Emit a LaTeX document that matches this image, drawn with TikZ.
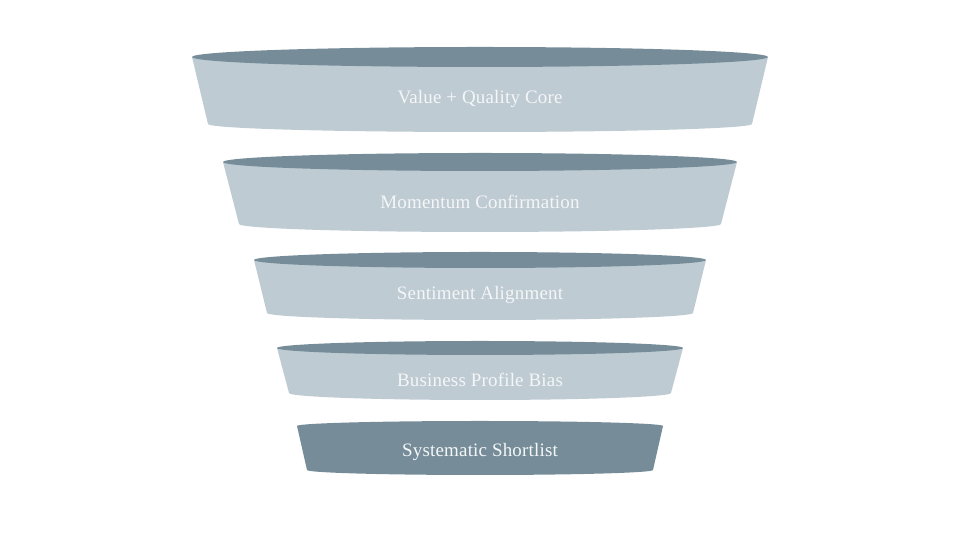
\documentclass[tikz,border=0pt]{standalone}
\usepackage{fontspec}
\newfontfamily\tierfont[LetterSpace=1]{Liberation Serif}
\definecolor{tierlight}{HTML}{BFCBD3}
\definecolor{tierdark}{HTML}{768D99}
\definecolor{tierink}{HTML}{F4F6F8}

\begin{document}
\begin{tikzpicture}[x=0.02cm,y=0.02cm,
    tier/.style={fill=tierlight},
    rim/.style={fill=tierdark},
    tiertext/.style={text=tierink,font=\tierfont\fontsize{10.8}{13}\selectfont}]
  \useasboundingbox (0,0) rectangle (960,540);
  % tier 1
  \fill[tier] (192,483) -- (208,416) arc[start angle=180,end angle=360,x radius=272,y radius=8] -- (768,483) -- cycle;
  \fill[rim] (480,483) ellipse [x radius=288,y radius=10];
  \node[tiertext] (core) at (480,441) {Value + Quality Core};
  % tier 2
  \fill[tier] (223,378) -- (239,316) arc[start angle=180,end angle=360,x radius=241,y radius=8] -- (737,378) -- cycle;
  \fill[rim] (480,378) ellipse [x radius=257,y radius=9];
  \node[tiertext] (momentum) at (480,338) {Momentum Confirmation};
  % tier 3
  \fill[tier] (254,280) -- (267,227) arc[start angle=180,end angle=360,x radius=213,y radius=7] -- (706,280) -- cycle;
  \fill[rim] (480,280) ellipse [x radius=226,y radius=8];
  \node[tiertext] (sentiment) at (480,245) {Sentiment Alignment};
  % tier 4
  \fill[tier] (277,192) -- (289,147) arc[start angle=180,end angle=360,x radius=191,y radius=7] -- (683,192) -- cycle;
  \fill[rim] (480,192) ellipse [x radius=203,y radius=7];
  \node[tiertext] (profile) at (480,160) {Business Profile Bias};
  % tier 5
  \fill[rim] (297,114) -- (307,70) arc[start angle=180,end angle=360,x radius=173,y radius=5] -- (663,114) arc[start angle=0,end angle=180,x radius=183,y radius=5] -- cycle;
  \node[tiertext] (shortlist) at (480,88) {Systematic Shortlist};
\end{tikzpicture}
\end{document}
